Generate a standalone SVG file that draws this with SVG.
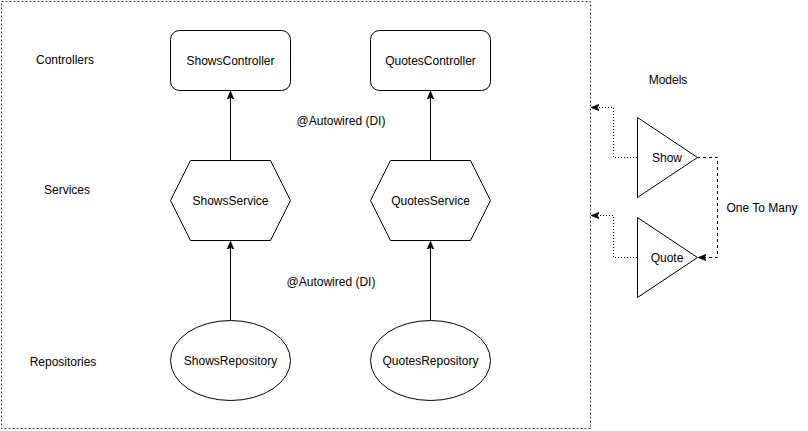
<svg xmlns="http://www.w3.org/2000/svg" width="808" height="431" viewBox="0 0 808 431">
<style>
text{font-family:"Liberation Sans",Arial,sans-serif;font-size:12px;fill:#000;text-anchor:middle;dominant-baseline:central}
.shape{fill:#fff;stroke:#000;stroke-width:1}
.edge{fill:none;stroke:#000;stroke-width:1}
.dot{stroke-dasharray:1 2}
.dash{stroke-dasharray:3 3}
</style>
<defs>
<marker id="arr" viewBox="0 0 10 10" refX="9" refY="5" markerWidth="8" markerHeight="8" markerUnits="userSpaceOnUse" orient="auto">
<path d="M0,1 L10,5 L0,9 L2.5,5 Z" fill="#000" stroke="#000" stroke-width="1"/>
</marker>
</defs>
<rect id="frame" x="1.5" y="1.5" width="589" height="427" fill="none" stroke="#444" stroke-width="1" stroke-dasharray="2 2"/>
<g id="labels">
<text x="65" y="60">Controllers</text>
<text x="67" y="190">Services</text>
<text x="63" y="362">Repositories</text>
<text x="341" y="121">@Autowired (DI)</text>
<text x="331" y="282">@Autowired (DI)</text>
<text x="668" y="80">Models</text>
<text x="762" y="208">One To Many</text>
</g>
<g id="connectors">
<path class="edge" d="M230.5,160 L230.5,92" marker-end="url(#arr)"/>
<path class="edge" d="M430.5,160 L430.5,92" marker-end="url(#arr)"/>
<path class="edge" d="M230.5,320 L230.5,242" marker-end="url(#arr)"/>
<path class="edge" d="M430.5,320 L430.5,242" marker-end="url(#arr)"/>
<path class="edge dot" d="M637,157.5 L613.5,157.5 L613.5,107.5 L592,107.5" marker-end="url(#arr)"/>
<path class="edge dot" d="M637,257.5 L613.5,257.5 L613.5,215.5 L592,215.5" marker-end="url(#arr)"/>
<path class="edge dash" d="M697,157.5 L717.5,157.5 L717.5,257.5 L699,257.5" marker-end="url(#arr)"/>
</g>
<g id="ShowsController">
<rect class="shape" x="170.5" y="30.5" width="120" height="60" rx="9" ry="9"/>
<text x="230.5" y="60.5">ShowsController</text>
</g>
<g id="QuotesController">
<rect class="shape" x="370.5" y="30.5" width="120" height="60" rx="9" ry="9"/>
<text x="430.5" y="60.5">QuotesController</text>
</g>
<g id="ShowsService">
<polygon class="shape" points="170.5,200.5 190.5,160.5 270.5,160.5 290.5,200.5 270.5,240.5 190.5,240.5"/>
<text x="230.5" y="200.5">ShowsService</text>
</g>
<g id="QuotesService">
<polygon class="shape" points="370.5,200.5 390.5,160.5 470.5,160.5 490.5,200.5 470.5,240.5 390.5,240.5"/>
<text x="430.5" y="200.5">QuotesService</text>
</g>
<g id="ShowsRepository">
<ellipse class="shape" cx="230.5" cy="360.5" rx="60" ry="40"/>
<text x="230.5" y="360.5">ShowsRepository</text>
</g>
<g id="QuotesRepository">
<ellipse class="shape" cx="430.5" cy="360.5" rx="60" ry="40"/>
<text x="430.5" y="360.5">QuotesRepository</text>
</g>
<g id="Show">
<polygon class="shape" points="637.5,117.5 697.5,157.5 637.5,197.5"/>
<text x="667" y="157.5">Show</text>
</g>
<g id="Quote">
<polygon class="shape" points="637.5,217.5 697.5,257.5 637.5,297.5"/>
<text x="667" y="257.5">Quote</text>
</g>
</svg>
